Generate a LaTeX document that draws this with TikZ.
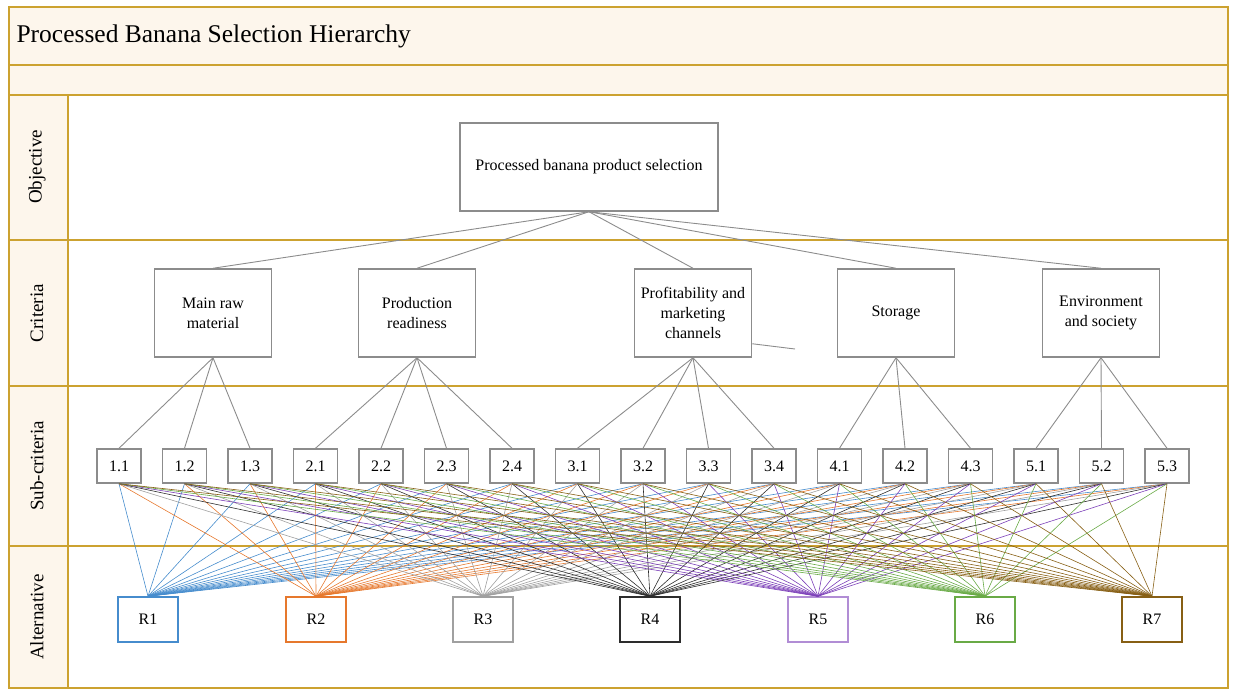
\documentclass[tikz,border=0pt]{standalone}
\usepackage{fontspec}
\setmainfont{Liberation Serif}
\usepackage{tikz}
\usetikzlibrary{calc}
\definecolor{framegold}{RGB}{204,162,48}
\definecolor{bandfill}{RGB}{253,246,236}
\definecolor{boxgray}{RGB}{140,140,140}
\definecolor{linkgray}{RGB}{140,140,140}
\definecolor{rblue}{RGB}{70,140,205}
\definecolor{rorange}{RGB}{230,120,45}
\definecolor{rgrey}{RGB}{160,160,160}
\definecolor{rblack}{RGB}{45,45,45}
\definecolor{rpurple}{RGB}{125,65,185}
\definecolor{rgreen}{RGB}{105,170,70}
\definecolor{rbrown}{RGB}{135,95,20}
\tikzstyle{goalbox}=[rectangle,draw=boxgray,line width=1.5pt,minimum width=258pt,minimum height=88pt,inner sep=0pt,font=\fontsize{16}{20}\selectfont]
\tikzstyle{critbox}=[rectangle,draw=boxgray,line width=1.5pt,minimum width=117pt,minimum height=88pt,inner sep=0pt,align=center,font=\fontsize{16}{20}\selectfont]
\tikzstyle{subbox}=[rectangle,draw=boxgray,line width=1.5pt,fill=white,minimum width=44pt,minimum height=34pt,inner sep=0pt,font=\fontsize{16}{20}\selectfont]
\tikzstyle{altbox}=[rectangle,line width=1.5pt,fill=white,minimum width=60pt,minimum height=45pt,inner sep=0pt,font=\fontsize{16}{20}\selectfont]
\tikzstyle{link} = [draw,linkgray,line width=0.9pt]
\tikzstyle{altlink} = [draw,line width=0.6pt]
\tikzstyle{layer} = [draw=framegold,line width=2pt]
\tikzstyle{rowlabel} = [rotate=90,font=\fontsize{19}{22}\selectfont]

\begin{document}
\begin{tikzpicture}[x=1pt,y=-1pt]
    \useasboundingbox (0,0) rectangle (1235,689);
    % First we draw the frame and the bands
    \fill[bandfill] (9,7) rectangle (1228,95);
    \fill[bandfill] (9,95) rectangle (68,688);
    \draw[layer] (9,7) rectangle (1228,688);
    \foreach \y in {65,95,240,386,546}
        \draw[layer] (9,\y) -- (1228,\y);
    \draw[layer] (68,95) -- (68,688);
    \node[anchor=west,font=\fontsize{25.5}{30}\selectfont] (title) at (13,36) {Processed Banana Selection Hierarchy};

    \foreach \pos/\name/\label in {{(37,167)/objrow/Objective}, {(37,313)/critrow/Criteria},
    {(37,466)/subrow/Sub-criteria}, {(37,617)/altrow/Alternative}}
        \node[rowlabel] (\name) at \pos {\label};

    % Then the goal and the criteria
    \node[goalbox] (goal) at (589,167) {Processed banana product selection};
    \foreach \pos/\name/\label in {{(213,313)/raw/Main raw\\material}, {(417,313)/prod/Production\\readiness},
    {(693,313)/profit/Profitability and\\marketing\\channels}, {(896,313)/store/Storage},
    {(1101,313)/envir/Environment\\and society}}
        \node[critbox] (\name) at \pos {\label};

    % Sub-criteria
    \foreach \pos/\name/\label in {{(119,466)/s11/1.1}, {(184.5,466)/s12/1.2}, {(250,466)/s13/1.3},
    {(315.5,466)/s21/2.1}, {(381,466)/s22/2.2}, {(446.5,466)/s23/2.3}, {(512,466)/s24/2.4},
    {(577.5,466)/s31/3.1}, {(643,466)/s32/3.2}, {(708.5,466)/s33/3.3}, {(774,466)/s34/3.4},
    {(839.5,466)/s41/4.1}, {(905,466)/s42/4.2}, {(970.5,466)/s43/4.3},
    {(1036,466)/s51/5.1}, {(1101.5,466)/s52/5.2}, {(1167,466)/s53/5.3}}
        \node[subbox] (\name) at \pos {\label};

    % Alternatives
    \foreach \pos/\name/\label/\col in {{(148,619.5)/r1/R1/rblue}, {(316,619.5)/r2/R2/rorange},
    {(483,619.5)/r3/R3/rgrey}, {(650,619.5)/r4/R4/rblack}, {(818,619.5)/r5/R5/rpurple!60},
    {(985,619.5)/r6/R6/rgreen}, {(1152,619.5)/r7/R7/rbrown}}
        \node[altbox,draw=\col] (\name) at \pos {\label};

    % Connect goal, criteria and sub-criteria
    \foreach \dest in {raw,prod,profit,store,envir}
        \path[link] (goal.south) -- (\dest.north);
    \foreach \source/\dest in {raw/s11, raw/s12, raw/s13, prod/s21, prod/s22, prod/s23, prod/s24,
    profit/s31, profit/s32, profit/s33, profit/s34, store/s41, store/s42, store/s43,
    envir/s51, envir/s52, envir/s53}
        \path[link] (\source.south) -- (\dest.north);
    \coordinate (loose) at (795,349);
    \path[link] ($(profit.south east)+(0,-14)$) -- (loose);

    % Every sub-criterion to every alternative
    \foreach \dest/\col in {r1/rblue, r2/rorange, r3/rgrey, r4/rblack, r5/rpurple, r6/rgreen, r7/rbrown}
        \foreach \source in {s11,s12,s13,s21,s22,s23,s24,s31,s32,s33,s34,s41,s42,s43,s51,s52,s53}
            \path[altlink,\col] (\source.south) -- (\dest.north);
\end{tikzpicture}
\end{document}
